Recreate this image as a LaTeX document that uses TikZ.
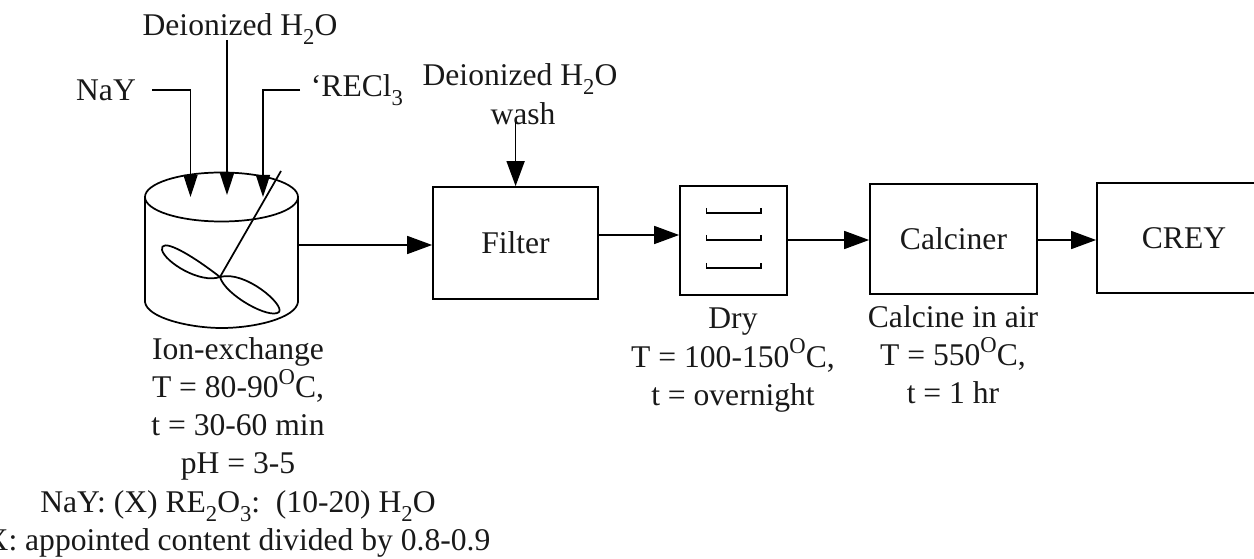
\documentclass[tikz,border=0pt]{standalone}
\usepackage{fontspec}
\setmainfont{Liberation Serif}
\usetikzlibrary{arrows.meta}
\newcommand{\lowtxt}[1]{\raisebox{-0.28em}{\fontsize{17}{17}\selectfont #1}}
\newcommand{\degO}{\raisebox{0.42em}{\fontsize{17}{17}\selectfont O}}
\tikzset{
  lbl/.style={inner sep=0pt,font=\fontsize{23.7}{28.7}\selectfont,align=center,text=black!90},
  boxed/.style={draw,line width=1.3pt,minimum width=#1*0.75pt,inner sep=0pt},
  tall/.style={minimum height=#1*0.75pt},
  flow/.style={line width=1.2pt,-{Triangle[length=18.75pt,width=13.5pt]}},
  inflow/.style={line width=1.2pt,-{Triangle[length=16.5pt,width=10.5pt]}},
  thin line/.style={line width=1pt},
  vessel/.style={line width=1.3pt},
  blade/.style={line width=1.3pt}
}
\begin{document}
\begin{tikzpicture}[x=0.75pt,y=-0.75pt]
\useasboundingbox (0,0) rectangle (1254,559);
% labels
\node[lbl,anchor=base] (water) at (240,36) {Deionized H\lowtxt{2}O};
\node[lbl,anchor=base] (nay) at (106,101) {NaY};
\node[lbl,anchor=base] (recl) at (357,97) {`RECl\lowtxt{3}};
\node[lbl,anchor=base] (washwater) at (520,86) {Deionized H\lowtxt{2}O};
\node[lbl,anchor=base] (wash) at (523,125) {wash};
% vessel
\coordinate (vw) at (145,197);
\coordinate (ve) at (298,197);
\draw[vessel] (221.5,197) ellipse [x radius=76.5, y radius=24.5];
\draw[vessel] (vw) -- (145,302) .. controls (147,318) and (190,328) .. (221.5,328)
  .. controls (255,328) and (296,318) .. (298,302) -- (ve);
\coordinate (hub) at (220,277);
\coordinate (shaft) at (281,171);
\draw[blade] (hub) -- (shaft);
\draw[blade] (hub) .. controls (200,284) and (165,262) .. (162,250)
  .. controls (160,238) and (185,250) .. (hub)
  .. controls (245,270) and (285,305) .. (279,312)
  .. controls (270,320) and (225,295) .. (hub);
% boxes
\node[boxed=165,tall=112] (filter) at (515.5,243) {};
\node[lbl] at (filter.center) {Filter};
\node[boxed=107,tall=109] (dry) at (733.5,240.5) {};
\node[boxed=167,tall=110] (calc) at (953.5,239) {};
\node[lbl] at (calc.center) {Calciner};
\node[boxed=167,tall=110] (crey) at (1180.5,238) {};
\node[lbl] at (1184,238) {CREY};
% trays
\foreach \y in {213,240,268}{
  \draw[thin line] (706.5,\y-5) -- (706.5,\y) -- (761,\y) -- (761,\y-5);
}
% inlets
\coordinate (a1) at (190.5,197);
\coordinate (a2) at (227,195);
\coordinate (a3) at (263,197);
\coordinate (n1) at (152,90);
\coordinate (r1) at (300,90);
\coordinate (w1) at (227,40);
\draw[inflow] (n1) -| (a1);
\draw[inflow] (w1) -- (a2);
\draw[inflow] (r1) -| (a3);
\coordinate (wtop) at (515.6,122);
\draw[flow] (wtop) -- (filter.north -| wtop);
% main line
\coordinate (vout) at (298,245);
\draw[flow] (vout) -- (filter.west |- vout);
\draw[flow] (filter.east |- 0,235) -- (dry.west |- 0,235);
\draw[flow] (dry.east |- 0,240) -- (calc.west |- 0,240);
\draw[flow] (calc.east |- 0,240) -- (crey.west |- 0,240);
% captions
\node[lbl,anchor=north] (c1) at (238,337) {Ion-exchange\\T = 80-90\degO C,\\t = 30-60 min\\pH = 3-5\\NaY: (X) RE\lowtxt{2}O\lowtxt{3}:\ \ (10-20) H\lowtxt{2}O\\X: appointed content divided by 0.8-0.9};
\node[lbl,anchor=north] (c2) at (733,308) {Dry\\T = 100-150\degO C,\\t = overnight};
\node[lbl,anchor=north] (c3) at (953,305) {Calcine in air\\T = 550\degO C,\\t = 1 hr};
\end{tikzpicture}
\end{document}
